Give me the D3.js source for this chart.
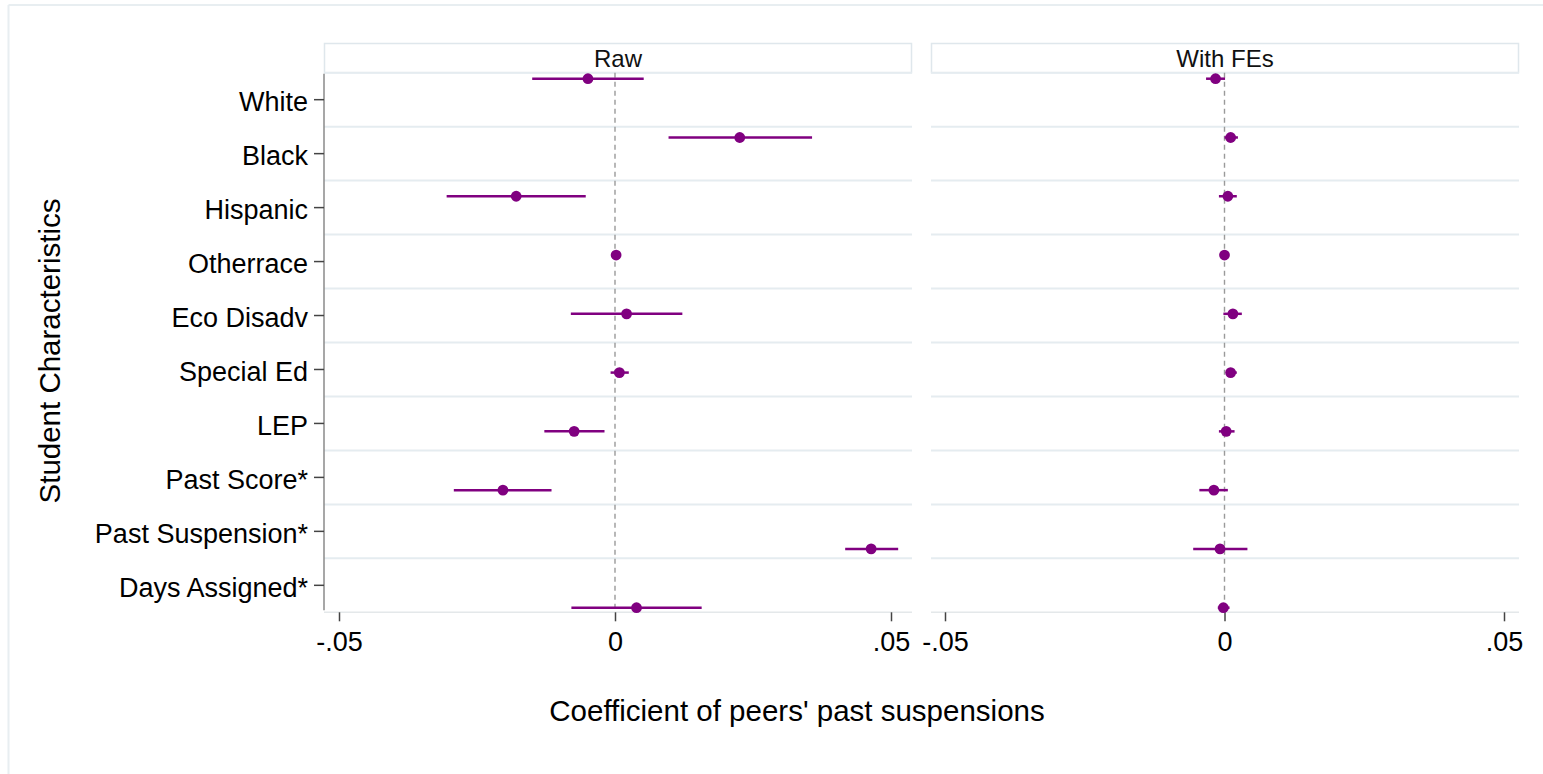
<!DOCTYPE html>
<html>
<head>
<meta charset="utf-8">
<script src="https://cdn.jsdelivr.net/npm/d3@7/dist/d3.min.js"></script>
<style>
  html, body { margin: 0; padding: 0; background: #ffffff; }
  svg { display: block; font-family: "Liberation Sans", Arial, sans-serif; }
</style>
</head>
<body>
<svg id="chart" width="1543" height="774"></svg>
<script>
// ---- data ----
const categories = ["White", "Black", "Hispanic", "Otherrace", "Eco Disadv", "Special Ed", "LEP", "Past Score*", "Past Suspension*", "Days Assigned*"];
const panels = ["Raw", "With FEs"];

const rawCoef = [-0.0049, 0.0226, -0.0179, 0.0002, 0.0021, 0.0008, -0.0074, -0.0203, 0.0464, 0.0039];
const rawLo   = [-0.0150, 0.0097, -0.0305, -0.0001, -0.0080, -0.0008, -0.0128, -0.0292, 0.0417, -0.0079];
const rawHi   = [ 0.0052, 0.0357, -0.0053, 0.0005, 0.0122, 0.0025, -0.0019, -0.0115, 0.0513, 0.0157];

const feCoef = [-0.0016, 0.0011, 0.0006, 0.0000, 0.0015, 0.0011, 0.0003, -0.0019, -0.0008, -0.0002];
const feLo   = [-0.0033, 0.0000, -0.0010, -0.0002, -0.0002, 0.0003, -0.0010, -0.0045, -0.0056, -0.0012];
const feHi   = [ 0.0001, 0.0024, 0.0022, 0.0002, 0.0031, 0.0022, 0.0018, 0.0006, 0.0041, 0.0009];

const xTicks = [-0.05, 0, 0.05];
const xTickLabels = ["-.05", "0", ".05"];
const yTitle = "Student Characteristics";
const xTitle = "Coefficient of peers' past suspensions";

// ---- layout ----
const svg = d3.select("#chart");
const plotTop = 72.7, plotBottom = 612.3;
const headerTop = 43.5;
const panelBoxes = [
  {x0: 324, x1: 912, t0: 339, t1: 891, coef: rawCoef, lo: rawLo, hi: rawHi, axis: true},
  {x0: 931, x1: 1519, t0: 945, t1: 1504, coef: feCoef, lo: feLo, hi: feHi, axis: false}
];
const purple = "#800080";
const gridColor = "#e5ecf0";

// outer frame (top and left edges)
svg.append("line").attr("x1", 8.5).attr("x2", 1543).attr("y1", 5).attr("y2", 5)
  .attr("stroke", "#e8eef1").attr("stroke-width", 2);
svg.append("line").attr("x1", 8.5).attr("x2", 8.5).attr("y1", 5).attr("y2", 774)
  .attr("stroke", "#e8eef1").attr("stroke-width", 2);

const yBand = d3.scaleBand().domain(categories).range([plotTop, plotBottom]).padding(0);
const yPoint = d3.scalePoint().domain(categories).range([78.7, 607.7]);

panelBoxes.forEach((p, pi) => {
  const x = d3.scaleLinear().domain([-0.05, 0.05]).range([p.t0, p.t1]);
  const g = svg.append("g");

  // header strip
  g.append("rect").attr("x", p.x0 + 0.5).attr("y", headerTop).attr("width", p.x1 - p.x0 - 1).attr("height", plotTop - headerTop)
    .attr("fill", "#ffffff").attr("stroke", "#dfe7ec").attr("stroke-width", 1.5);
  g.append("text").attr("x", (p.x0 + p.x1) / 2).attr("y", (headerTop + plotTop) / 2).attr("dy", "0.36em")
    .attr("text-anchor", "middle").attr("font-size", 24).attr("fill", "#111").text(panels[pi]);

  // gridlines at band boundaries
  const bounds = categories.slice(1).map(c => yBand(c));
  bounds.unshift(plotTop);
  g.selectAll("line.grid").data(bounds).join("line").attr("class", "grid")
    .attr("x1", p.x0).attr("x2", p.x1).attr("y1", d => d).attr("y2", d => d)
    .attr("stroke", gridColor).attr("stroke-width", 2);
  g.append("line").attr("x1", p.x0).attr("x2", p.x1).attr("y1", plotBottom).attr("y2", plotBottom)
    .attr("stroke", "#e4e8ea").attr("stroke-width", 1.5);

  // zero reference line
  g.append("line").attr("x1", x(0)).attr("x2", x(0)).attr("y1", plotTop).attr("y2", plotBottom)
    .attr("stroke", "#9a9a9a").attr("stroke-width", 1.4).attr("stroke-dasharray", "5,4");

  // x axis
  const xAxis = d3.axisBottom(x).tickValues(xTicks).tickFormat((d, i) => xTickLabels[i]).tickSize(9).tickPadding(11);
  const ax = g.append("g").attr("transform", `translate(0,${plotBottom})`).call(xAxis);
  ax.select(".domain").remove();
  ax.selectAll(".tick line").attr("stroke", "#444").attr("stroke-width", 1.5);
  ax.selectAll(".tick text").attr("font-size", 27).attr("fill", "#000").attr("font-family", "Liberation Sans, Arial, sans-serif");

  // y axis (left panel only)
  if (p.axis) {
    const yAxis = d3.axisLeft(yBand).tickSize(10).tickPadding(6);
    const ay = g.append("g").attr("transform", `translate(${p.x0},0)`).call(yAxis);
    ay.select(".domain").attr("stroke", "#8a8a8a").attr("stroke-width", 1.5)
      .attr("d", `M0,${plotTop + 1}V${plotBottom - 2}`);
    ay.selectAll(".tick line").attr("stroke", "#444").attr("stroke-width", 1.5);
    ay.selectAll(".tick text").attr("font-size", 27).attr("fill", "#000").attr("dy", "0.42em")
      .attr("font-family", "Liberation Sans, Arial, sans-serif");
  }

  // confidence intervals
  g.selectAll("line.ci").data(categories).join("line").attr("class", "ci")
    .attr("x1", (d, i) => x(p.lo[i])).attr("x2", (d, i) => x(p.hi[i]))
    .attr("y1", d => yPoint(d)).attr("y2", d => yPoint(d))
    .attr("stroke", purple).attr("stroke-width", 2.5);

  // point estimates
  g.selectAll("circle.pt").data(categories).join("circle").attr("class", "pt")
    .attr("cx", (d, i) => x(p.coef[i])).attr("cy", d => yPoint(d)).attr("r", 5.4)
    .attr("fill", purple);
});

// axis titles
svg.append("text").attr("transform", `translate(60,351) rotate(-90)`).attr("text-anchor", "middle")
  .attr("font-size", 29.5).attr("fill", "#000").text(yTitle);
svg.append("text").attr("x", 797).attr("y", 721).attr("text-anchor", "middle")
  .attr("font-size", 29.5).attr("fill", "#000").text(xTitle);
</script>
</body>
</html>
